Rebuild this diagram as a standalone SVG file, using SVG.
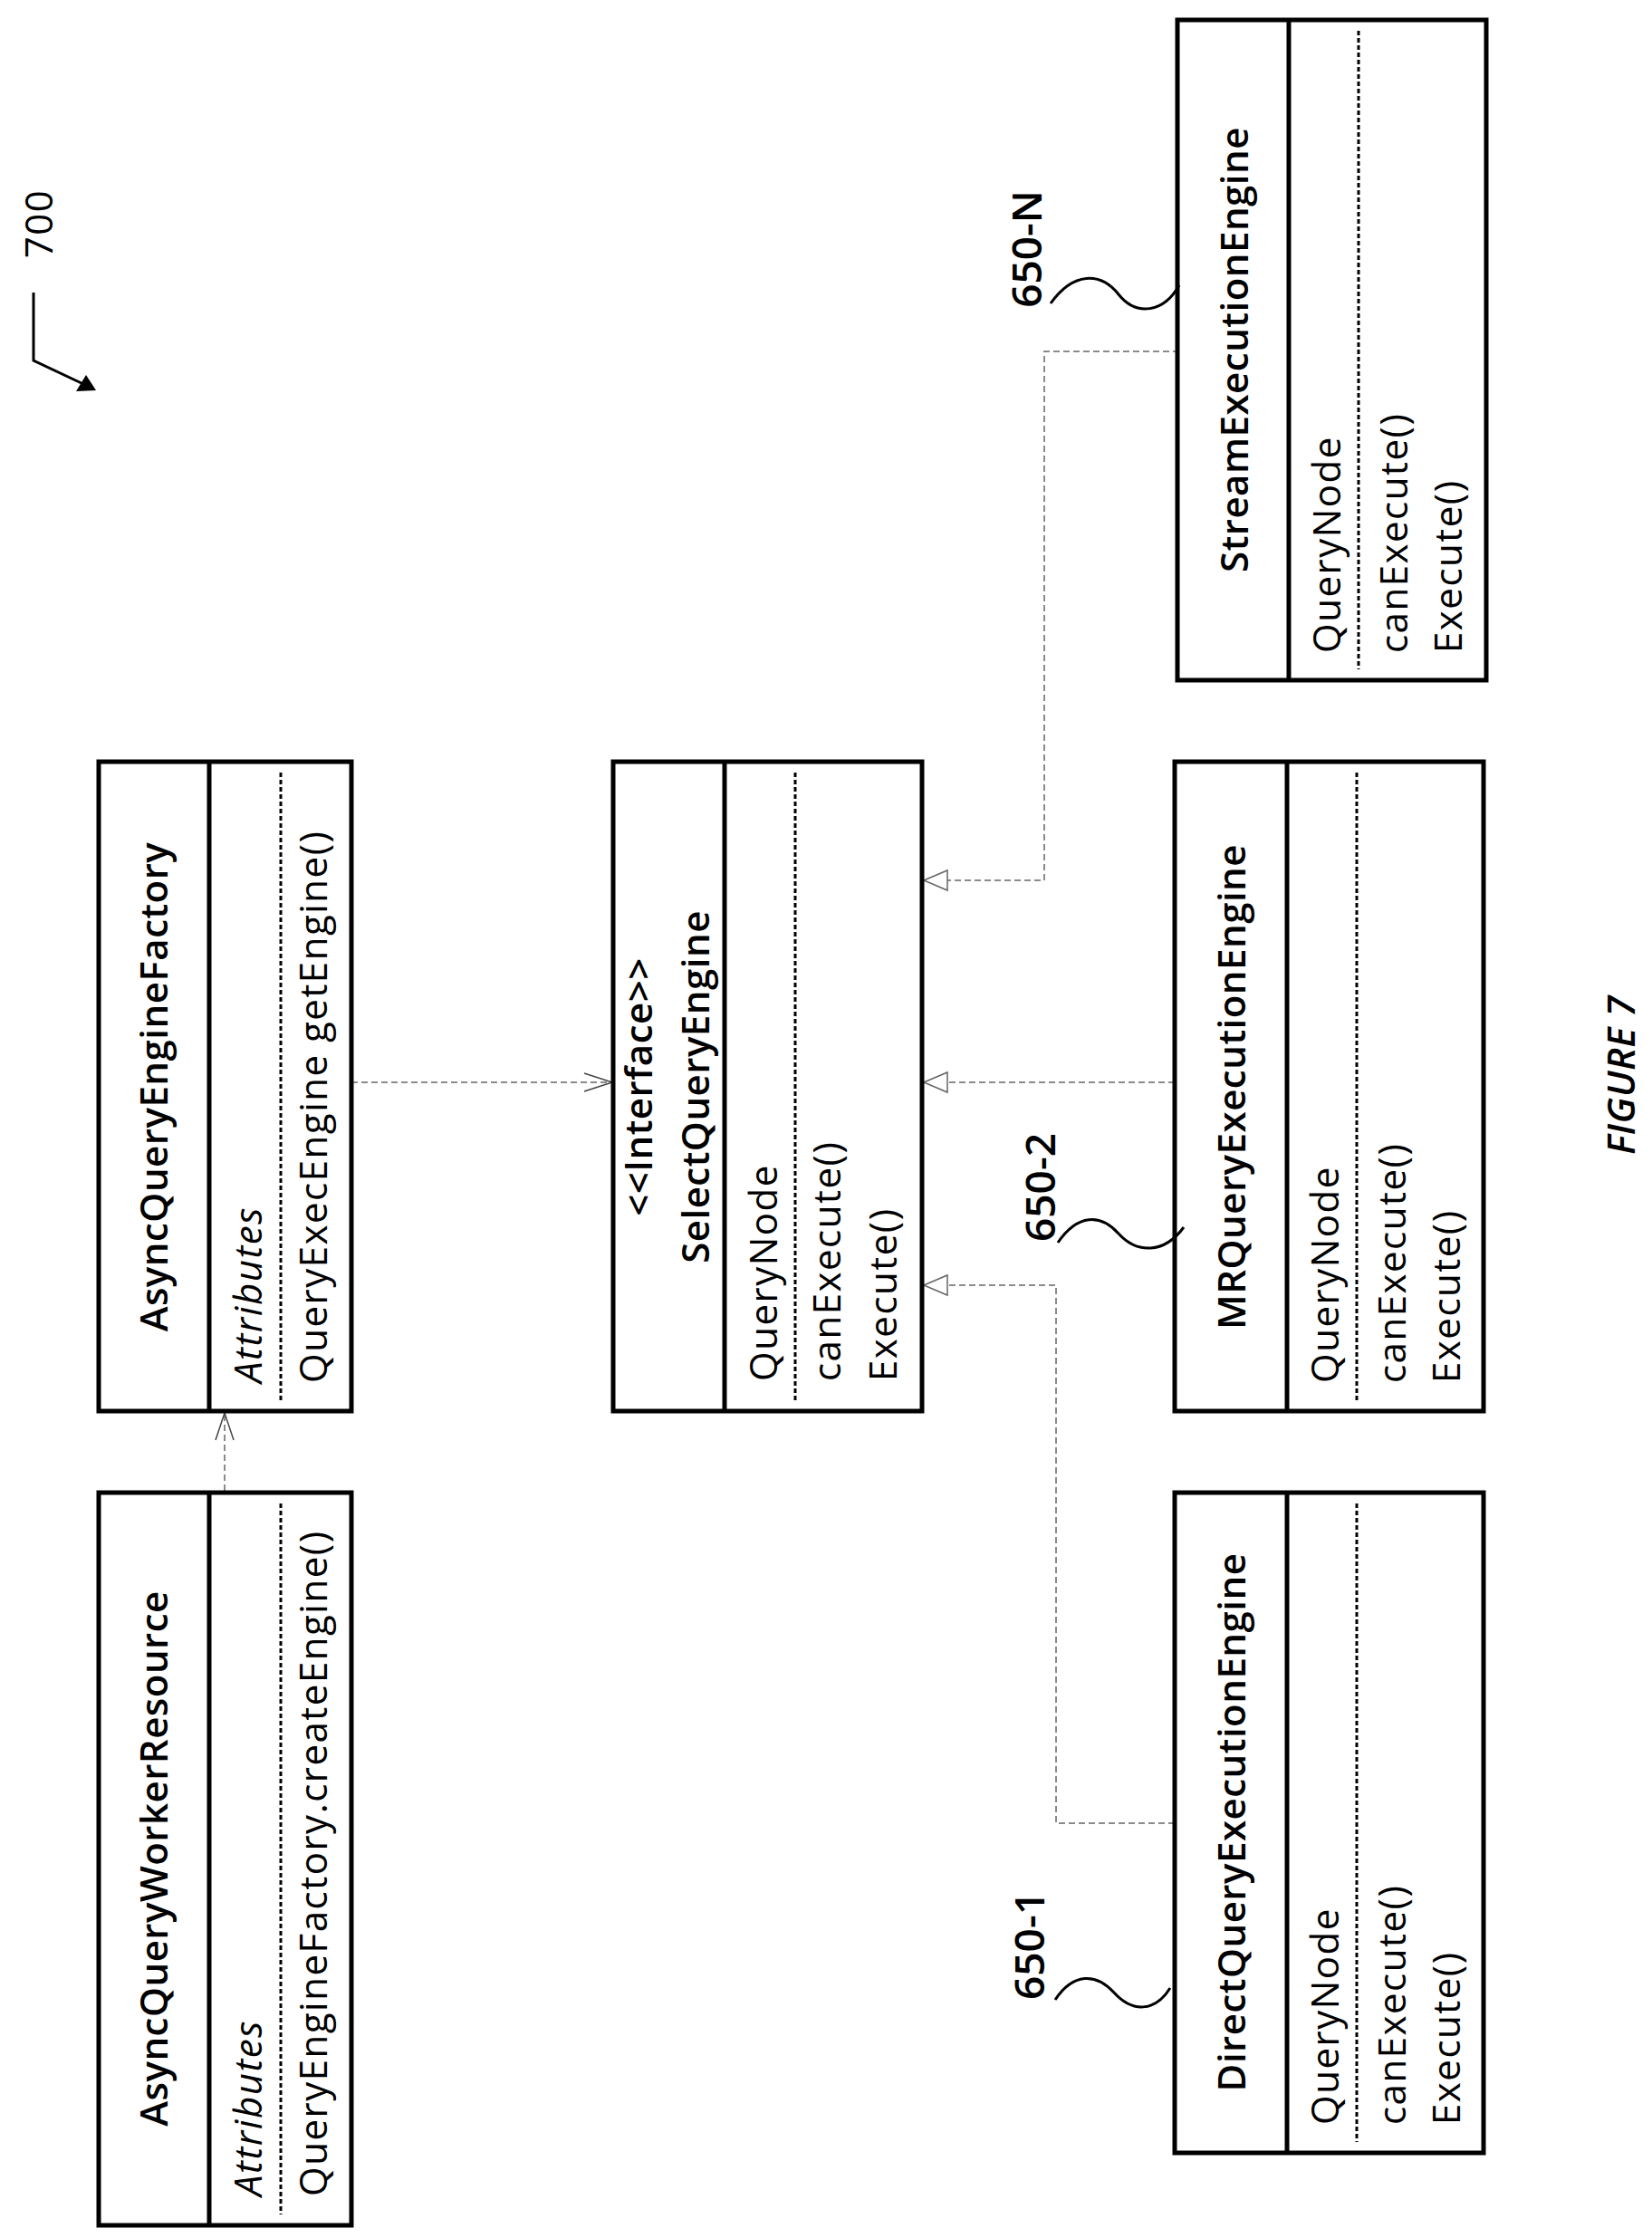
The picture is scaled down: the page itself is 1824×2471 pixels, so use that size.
<svg xmlns="http://www.w3.org/2000/svg" width="1824" height="2471" viewBox="0 0 1824 2471">
<style>
.box{fill:#fff;stroke:#000;stroke-width:5}
.div{stroke:#000;stroke-width:5}
.sep{stroke:#000;stroke-width:3;stroke-dasharray:5 3}
.t{font-family:"Open Sans","Liberation Sans",sans-serif;font-size:42px;fill:#000;letter-spacing:1.5px}
.b{font-weight:600;letter-spacing:0.5px}
.i{font-style:italic}
.l{font-size:46px;font-weight:600;letter-spacing:0}
.c{stroke:#666;stroke-width:1.5;fill:none;stroke-dasharray:7 4}
.h{stroke:#666;stroke-width:1.5;fill:#fff}
.v{stroke:#444;stroke-width:1.5;fill:none}
.sq{stroke:#000;stroke-width:3;fill:none}
</style>
<rect width="1824" height="2471" fill="#fff"/>
<g id="connectors">
<line class="c" x1="248" y1="1646" x2="248" y2="1560"/>
<polyline class="v" points="238,1590 248,1560 258,1590"/>
<line class="c" x1="388" y1="1195" x2="675" y2="1195"/>
<polyline class="v" points="645,1185 676,1195 645,1205"/>
<polyline class="c" points="1297,1195 1046,1195"/>
<polygon class="h" points="1020,1195 1046,1184 1046,1206"/>
<polyline class="c" points="1302,388 1153,388 1153,972 1046,972"/>
<polygon class="h" points="1020,972 1046,961 1046,983"/>
<polyline class="c" points="1297,2013 1166,2013 1166,1419 1046,1419"/>
<polygon class="h" points="1020,1419 1046,1408 1046,1430"/>
</g>
<g id="worker">
<rect class="box" x="109" y="1648" width="279" height="809"/>
<line class="div" x1="231" y1="1648" x2="231" y2="2457"/>
<line class="sep" x1="310" y1="1660" x2="310" y2="2445"/>
<text class="t b" text-anchor="middle" transform="translate(185,2052) rotate(-90)">AsyncQueryWorkerResource</text>
<text class="t i" transform="translate(289,2425) rotate(-90)">Attributes</text>
<text class="t" transform="translate(361,2425) rotate(-90)">QueryEngineFactory.createEngine()</text>
</g>
<g id="factory">
<rect class="box" x="109" y="841" width="279" height="717"/>
<line class="div" x1="231" y1="841" x2="231" y2="1558"/>
<line class="sep" x1="310" y1="853" x2="310" y2="1546"/>
<text class="t b" text-anchor="middle" transform="translate(185,1200) rotate(-90)">AsyncQueryEngineFactory</text>
<text class="t i" transform="translate(289,1527) rotate(-90)">Attributes</text>
<text class="t" transform="translate(361,1527) rotate(-90)">QueryExecEngine getEngine()</text>
</g>
<g id="interface">
<rect class="box" x="677" y="841" width="341" height="717"/>
<line class="div" x1="800" y1="841" x2="800" y2="1558"/>
<line class="sep" x1="878" y1="853" x2="878" y2="1546"/>
<text class="t b" text-anchor="middle" transform="translate(720,1200) rotate(-90)">&lt;&lt;Interface&gt;&gt;</text>
<text class="t b" text-anchor="middle" transform="translate(783,1200) rotate(-90)">SelectQueryEngine</text>
<text class="t" transform="translate(858,1525) rotate(-90)">QueryNode</text>
<text class="t" transform="translate(928,1525) rotate(-90)">canExecute()</text>
<text class="t" transform="translate(990,1525) rotate(-90)">Execute()</text>
</g>
<g id="stream">
<rect class="box" x="1300" y="22" width="341" height="729"/>
<line class="div" x1="1423" y1="22" x2="1423" y2="751"/>
<line class="sep" x1="1500" y1="34" x2="1500" y2="739"/>
<text class="t b" text-anchor="middle" transform="translate(1378,386) rotate(-90)">StreamExecutionEngine</text>
<text class="t" transform="translate(1480,721) rotate(-90)">QueryNode</text>
<text class="t" transform="translate(1554,721) rotate(-90)">canExecute()</text>
<text class="t" transform="translate(1614,721) rotate(-90)">Execute()</text>
</g>
<g id="mr">
<rect class="box" x="1297" y="841" width="341" height="717"/>
<line class="div" x1="1421" y1="841" x2="1421" y2="1558"/>
<line class="sep" x1="1498" y1="853" x2="1498" y2="1546"/>
<text class="t b" text-anchor="middle" transform="translate(1375,1200) rotate(-90)">MRQueryExecutionEngine</text>
<text class="t" transform="translate(1478,1527) rotate(-90)">QueryNode</text>
<text class="t" transform="translate(1552,1527) rotate(-90)">canExecute()</text>
<text class="t" transform="translate(1612,1527) rotate(-90)">Execute()</text>
</g>
<g id="direct">
<rect class="box" x="1297" y="1648" width="341" height="729"/>
<line class="div" x1="1421" y1="1648" x2="1421" y2="2377"/>
<line class="sep" x1="1498" y1="1660" x2="1498" y2="2365"/>
<text class="t b" text-anchor="middle" transform="translate(1375,2012) rotate(-90)">DirectQueryExecutionEngine</text>
<text class="t" transform="translate(1478,2346) rotate(-90)">QueryNode</text>
<text class="t" transform="translate(1552,2346) rotate(-90)">canExecute()</text>
<text class="t" transform="translate(1612,2346) rotate(-90)">Execute()</text>
</g>
<g id="labels">
<text class="t l" text-anchor="middle" transform="translate(1150,275) rotate(-90)">650-N</text>
<path class="sq" d="M1160,335 C1185,300 1215,300 1235,325 S1285,345 1302,315"/>
<text class="t l" text-anchor="middle" transform="translate(1165,1311) rotate(-90)">650-2</text>
<path class="sq" d="M1168,1372 C1190,1340 1215,1340 1235,1362 S1285,1385 1307,1355"/>
<text class="t l" text-anchor="middle" transform="translate(1153,2148) rotate(-90)">650-1</text>
<path class="sq" d="M1165,2208 C1185,2178 1210,2178 1230,2200 S1275,2222 1292,2195"/>
<text class="t" text-anchor="middle" transform="translate(58,247) rotate(-90)">700</text>
<polyline class="sq" points="37,323 37,398 92,424"/>
<polygon points="106,431 84,432 95,414" fill="#000"/>
<text class="t b i" font-size="70" font-weight="bold" text-anchor="middle" transform="translate(1805,1187) rotate(-90)">FIGURE 7</text>
</g>
</svg>
